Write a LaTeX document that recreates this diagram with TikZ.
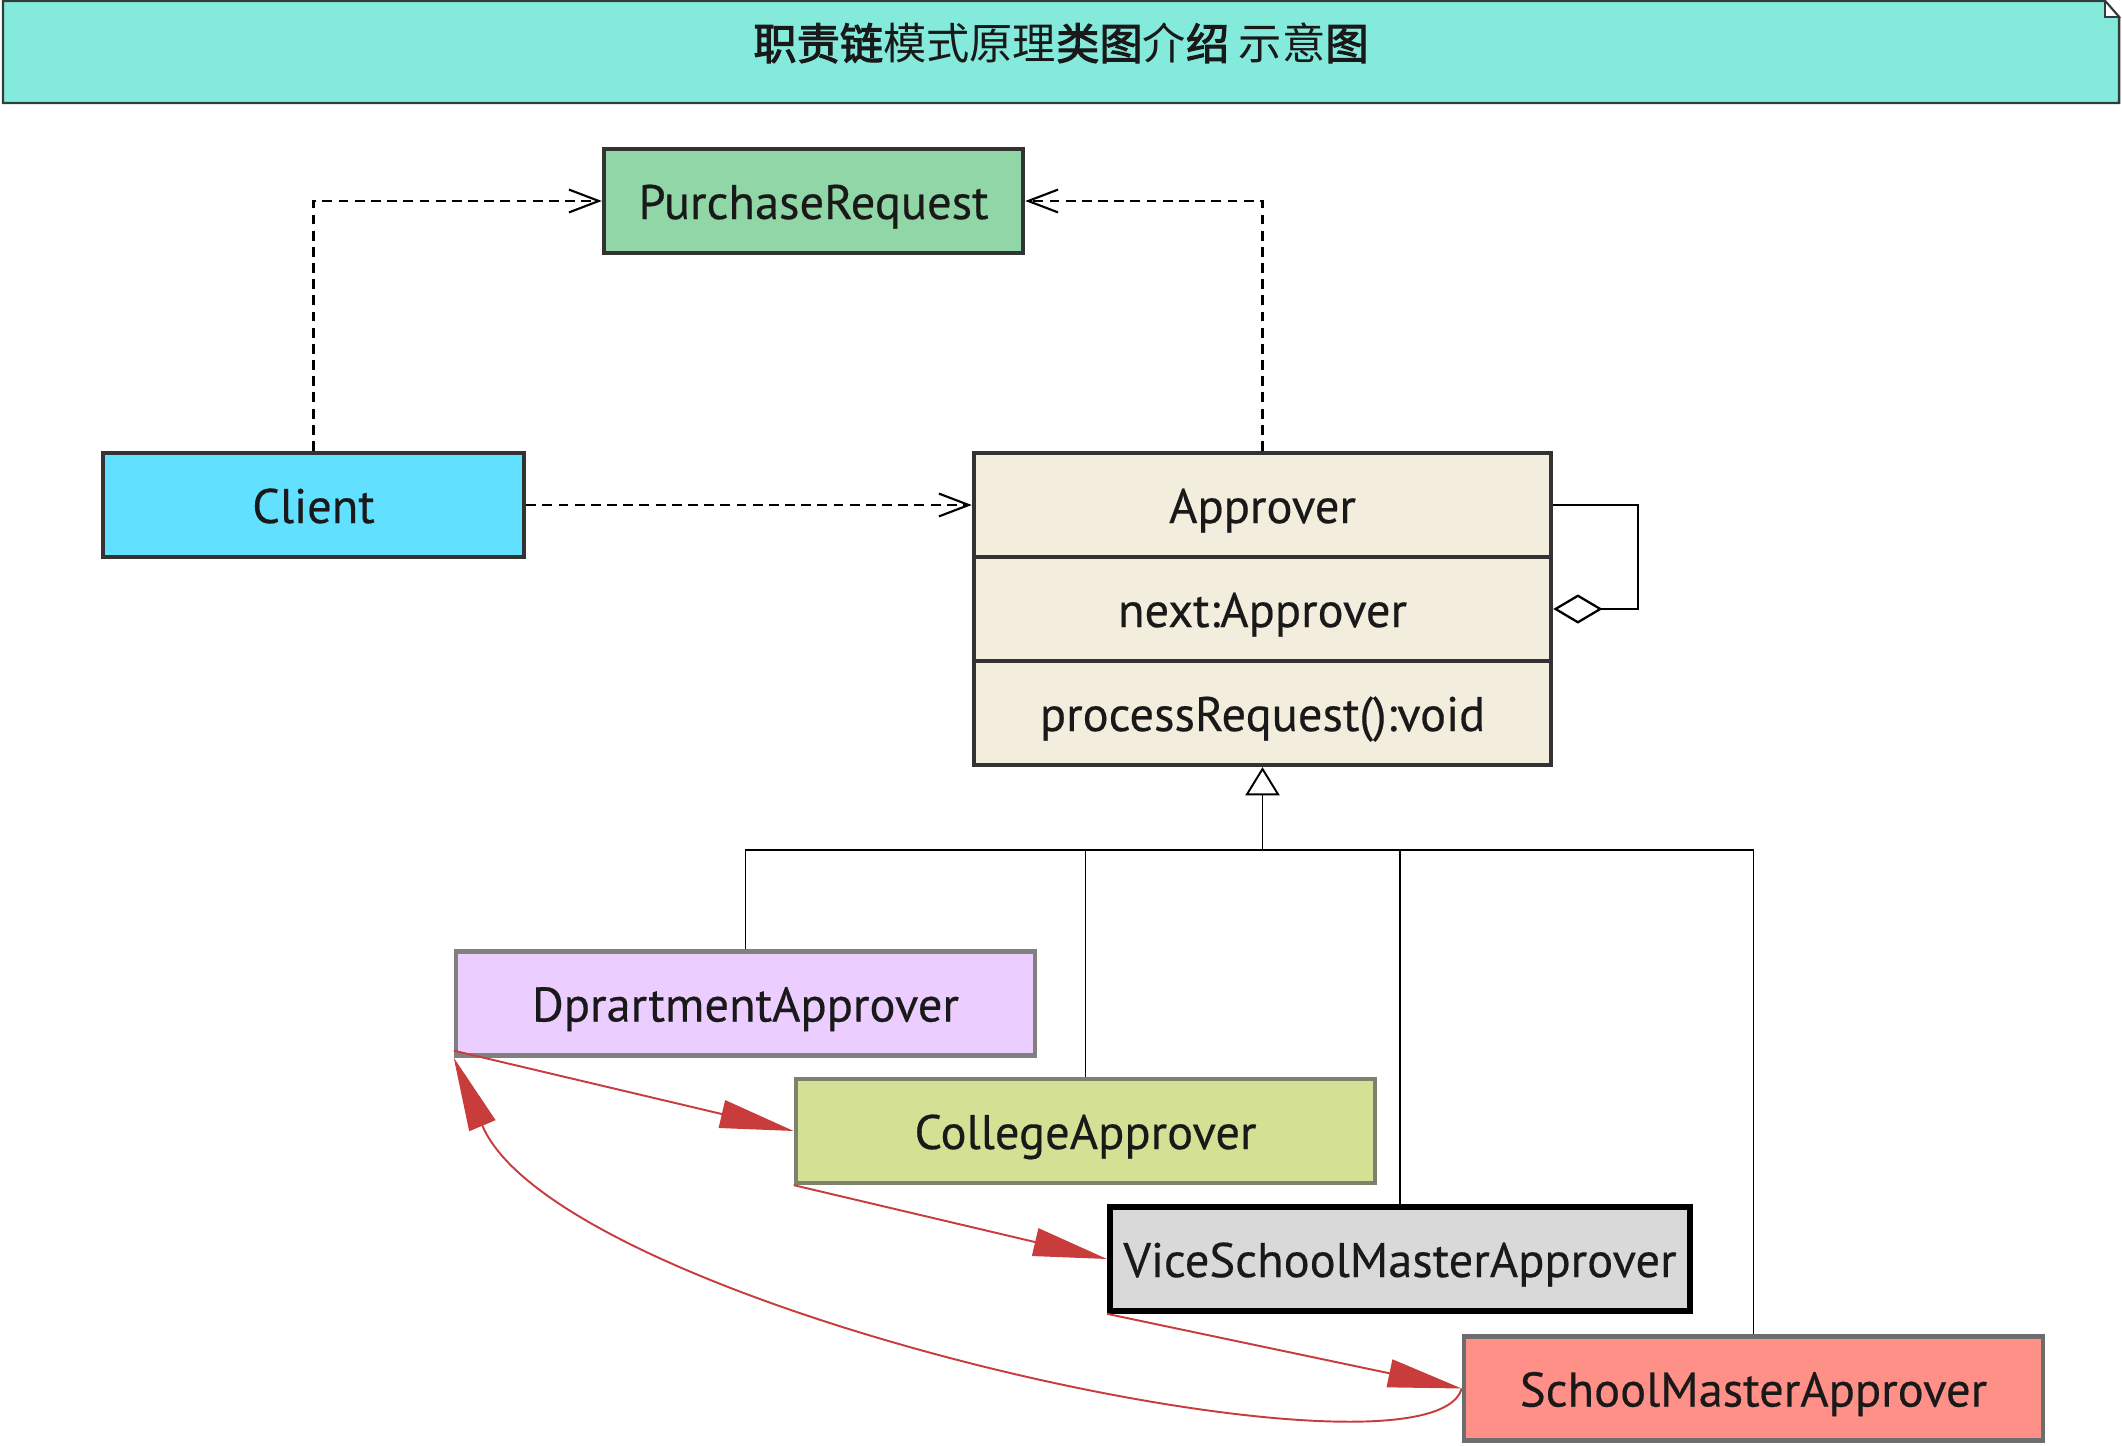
\documentclass[tikz,border=0pt]{standalone}
\usepackage{fontspec}
\setmainfont{PT Sans}
\newfontfamily\boxfont{PT Sans}[FakeBold=0.35]
\newfontfamily\cjk{Noto Sans CJK SC}[AutoFakeBold=2.5]
\usetikzlibrary{arrows.meta}
\definecolor{titlebg}{RGB}{132,235,220}
\definecolor{titleline}{RGB}{50,60,58}
\definecolor{prfill}{RGB}{144,214,167}
\definecolor{clientfill}{RGB}{97,225,255}
\definecolor{apprfill}{RGB}{242,237,220}
\definecolor{depfill}{RGB}{235,205,255}
\definecolor{colfill}{RGB}{212,225,148}
\definecolor{vicefill}{RGB}{217,217,217}
\definecolor{schoolfill}{RGB}{255,144,136}
\definecolor{darkline}{RGB}{51,51,51}
\definecolor{grayline}{RGB}{128,128,128}
\definecolor{colline}{RGB}{125,130,110}
\definecolor{redline}{RGB}{200,60,60}
\definecolor{txt}{RGB}{25,25,25}
\begin{document}
\begin{tikzpicture}[x=0.01cm,y=-0.01cm,
  box/.style={draw=darkline, line width=1.2pt, inner sep=0pt, minimum height=1.04cm,
    text height=0.46cm, text depth=0.10cm,
    text=txt, font=\boxfont\fontsize{13.8pt}{16pt}\selectfont},
  depconn/.style={draw=black, line width=0.6pt, dash pattern=on 2.8pt off 1.8pt,
    -{Straight Barb[length=8.5pt,width=6.5pt]}},
  inh/.style={draw=black, line width=0.55pt},
  chain/.style={draw=redline, line width=0.55pt,
    -{Triangle[length=21pt,width=8pt]}, fill=none},
]
\useasboundingbox (0,0) rectangle (2122,1446);

% title bar
\path[draw=titleline, line width=0.7pt, fill=titlebg]
  (3,1) -- (2105,1) -- (2119,17) -- (2119,103) -- (3,103) -- cycle;
\path[draw=titleline, line width=0.5pt, fill=white]
  (2105,1) -- (2105,17) -- (2119,17) -- cycle;
\node[text=txt, font=\cjk\fontsize{12.3pt}{14pt}\selectfont] (title) at (1061,43)
  {\textbf{职责链}模式原理\textbf{类图}介\textbf{绍} 示意\textbf{图}};

% class boxes
\node[box, fill=prfill, minimum width=4.19cm] (pr) at (813.5,201) {PurchaseRequest};
\node[box, fill=clientfill, minimum width=4.21cm] (client) at (313.5,505) {Client};
\node[box, fill=apprfill, minimum width=5.77cm] (appr) at (1262.5,505) {Approver};
\node[box, fill=apprfill, minimum width=5.77cm] (next) at (1262.5,609) {next:Approver};
\node[box, fill=apprfill, minimum width=5.77cm] (proc) at (1262.5,713) {processRequest():void};

\node[box, draw=grayline, fill=depfill, minimum width=5.79cm] (dep) at (745.5,1003.5) {DprartmentApprover};
\node[box, draw=colline, fill=colfill, minimum width=5.79cm] (col) at (1085.5,1131) {CollegeApprover};
\node[box, draw=black, line width=1.6pt, fill=vicefill, minimum width=5.8cm] (vice) at (1400,1259) {ViceSchoolMasterApprover};
\node[box, draw=grayline!85!black, fill=schoolfill, minimum width=5.79cm] (school) at (1753.5,1388.5) {SchoolMasterApprover};

% dependencies
\draw[depconn] (client.north) |- (pr.west);
\draw[depconn] (appr.north) |- (pr.east);
\draw[depconn] (client.east) -- (appr.west);

% self aggregation
\draw[line width=0.65pt, -{Diamond[open, fill=white, length=14pt, width=8.3pt]}]
  (appr.east) -- ++(85,0) |- (next.east);

% inheritance
\coordinate (bus) at (1262.5,850);
\draw[inh] (dep.north) |- (bus);
\draw[inh] (col.north) |- (bus);
\draw[inh] (vice.north) |- (bus);
\draw[inh] (school.north) |- (bus);
\draw[inh, -{Triangle[open, fill=white, length=8pt, width=9.7pt]}] (bus) -- (proc.south);

% chain of responsibility
\draw[chain] ([yshift=0.07cm]dep.south west) -- (col.west);
\draw[chain] (col.south west) -- (vice.west);
\draw[chain] (vice.south west) -- (school.west);
\draw[chain] (school.west) .. controls (1430,1500) and (560,1310) .. (dep.south west);
\end{tikzpicture}
\end{document}
